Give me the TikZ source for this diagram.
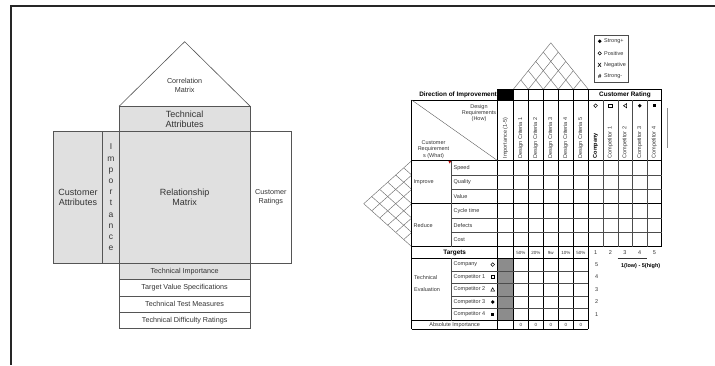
\documentclass[tikz,border=0pt]{standalone}
\usepackage{fontspec}
\setmainfont{Liberation Sans}
\usetikzlibrary{positioning}

\definecolor{housegray}{HTML}{E0E0E0}
\definecolor{linegray}{HTML}{555555}
\definecolor{textgray}{HTML}{333333}
\definecolor{evalgray}{HTML}{8C8C8C}
\definecolor{latticegray}{HTML}{6E6E6E}

\begin{document}
\begin{tikzpicture}[x=1pt, y=-1pt, inner sep=0pt,
      hbox/.style={draw=linegray, semithick, text=textgray, align=center},
      bigtxt/.style={font=\fontsize{9}{10.5}\selectfont},
      smalltxt/.style={font=\fontsize{7.2}{8.6}\selectfont},
      tabtxt/.style={text=textgray, font=\fontsize{5.5}{6.3}\selectfont},
      tabbold/.style={text=black, font=\bfseries\fontsize{6.4}{7}\selectfont},
      rothead/.style={tabtxt, rotate=90, anchor=west},
      thickrule/.style={black, line width=0.9pt},
      midrule/.style={black, line width=0.6pt},
      thinrule/.style={black!70, line width=0.35pt},
      lattice/.style={latticegray, line width=0.45pt},
      symb/.style={line width=0.5pt}]
      \useasboundingbox (0,0) rectangle (715,365);
      % frame
      \draw[black!85, line width=1.4pt] (715,6) -- (11,6) -- (11,365);

      % house of quality, left
      \node[hbox, bigtxt, fill=housegray, minimum width=130.7pt, minimum height=25pt]
        (techattr) at (184.65,119.2) {Technical\\Attributes};
      \coordinate (apex) at (184.65,41.7);
      \draw[linegray, semithick] (techattr.north west) -- (apex) -- (techattr.north east);
      \node[smalltxt, text=textgray, align=center] (corrmat) at (184.65,85.5) {Correlation\\Matrix};
      \node[hbox, bigtxt, fill=housegray, minimum width=49.4pt, minimum height=131.6pt]
        (custattr) at (78,197.5) {Customer\\Attributes};
      \node[hbox, fill=housegray, minimum width=16.6pt, minimum height=131.6pt,
        font=\fontsize{8.5}{11.2}\selectfont] (importance) at (111,197.5)
        {I\\m\\p\\o\\r\\t\\a\\n\\c\\e};
      \node[hbox, bigtxt, fill=housegray, minimum width=130.7pt, minimum height=131.6pt]
        (relmatrix) at (184.65,197.5) {Relationship\\Matrix};
      \node[hbox, smalltxt, minimum width=41.7pt, minimum height=131.6pt]
        (custrat) at (270.85,197.5) {Customer\\Ratings};
      \node[hbox, smalltxt, fill=housegray, minimum width=130.7pt, minimum height=16.35pt]
        (techimp) at (184.65,271.5) {Technical Importance};
      \node[hbox, smalltxt, minimum width=130.7pt, minimum height=16.35pt]
        (targetval) at (184.65,287.8) {Target Value Specifications};
      \node[hbox, smalltxt, minimum width=130.7pt, minimum height=16.35pt]
        (testmeas) at (184.65,304.2) {Technical Test Measures};
      \node[hbox, smalltxt, minimum width=130.7pt, minimum height=16.35pt]
        (diffrat) at (184.65,320.5) {Technical Difficulty Ratings};

      % house of quality, right: roofs
      \foreach \i in {0,...,5} {
        \draw[lattice] (513.3+15*\i,89.3) -- ++({37.5-7.5*\i},{-1.24*(37.5-7.5*\i)});
        \draw[lattice] (513.3+15*\i,89.3) -- ++({-7.5*\i},{-1.24*7.5*\i});
      }
      \foreach \j in {0,...,6} {
        \draw[lattice] (411.7,160.7+14.33*\j) -- ++({-1.116*7.165*\j},{-7.165*\j});
        \draw[lattice] (411.7,160.7+14.33*\j) -- ++({-1.116*(43-7.165*\j)},{43-7.165*\j});
      }

      % legend
      \node[draw=black!70, line width=0.5pt, minimum width=34.3pt, minimum height=46.6pt]
        (legend) at (611.15,59) {};
      \fill (599.7,41.3) circle (1.9);
      \draw[symb] (599.7,53.3) circle (1.7);
      \node[tabtxt, text=black, font=\bfseries\fontsize{6}{6}\selectfont] (lgx) at (599.7,65) {X};
      \node[tabtxt, text=black, font=\bfseries\fontsize{6}{6}\selectfont] (lgh) at (599.7,76.5) {\#};
      \node[tabtxt, anchor=west] (lg1) at (604,41.3) {Strong+};
      \node[tabtxt, anchor=west] (lg2) at (604,53.3) {Positive};
      \node[tabtxt, anchor=west] (lg3) at (604,65) {Negative};
      \node[tabtxt, anchor=west] (lg4) at (604,76.5) {Strong-};

      % fills
      \fill[black] (497.7,89.3) rectangle (513.3,100);
      \fill[evalgray] (497.7,258.3) rectangle (513.3,320.7);
      \fill[red!75!black] (448.3,160.7) -- (451.3,160.7) -- (449.8,163.6) -- cycle;

      % grid
      \draw[thickrule] (497.7,89.3) -- (661.7,89.3);
      \foreach \y in {100,160.7,203.7,246.7}
        \draw[thickrule] (411.7,\y) -- (661.7,\y);
      \foreach \y in {258.3,320.7,329}
        \draw[thickrule] (411.7,\y) -- (588.3,\y);
      \draw[thickrule] (411.7,100) -- (411.7,329);
      \foreach \x in {497.7,513.3,588.3}
        \draw[thickrule] (\x,89.3) -- (\x,329);
      \draw[thickrule] (661.7,89.3) -- (661.7,246.7);
      \foreach \x in {528.3,543.3,558.3,573.3}
        \draw[midrule] (\x,89.3) -- (\x,329);
      \foreach \x in {603,617.7,632.3,647}
        \draw[thinrule] (\x,100) -- (\x,246.7);
      \foreach \y in {175,189.3,218,232.3}
        \draw[thinrule] (451.5,\y) -- (661.7,\y);
      \foreach \y in {270.8,283.3,295.7,308.2}
        \draw[thinrule] (451.5,\y) -- (588.3,\y);
      \draw[thinrule] (451.5,160.7) -- (451.5,246.7);
      \draw[thinrule] (451.5,258.3) -- (451.5,320.7);
      \draw[thinrule] (411.7,100) -- (497.7,160.7);
      \draw[black!45, line width=0.6pt] (667.3,108) -- (667.3,148);

      % headers
      \node[tabbold, anchor=east] (dirimp) at (497,94.7) {Direction of Improvement};
      \node[tabbold] (custrating) at (625,94.7) {Customer Rating};
      \node[tabtxt, align=center] (designreq) at (479,113) {Design\\Requirements\\(How)};
      \node[tabtxt, align=center] (custreq) at (433.5,149.5) {Customer\\Requirement\\s (What)};
      \foreach \x/\t [count=\i] in {505.5/Importance (1-5), 520.8/Design Criteria 1,
          535.8/Design Criteria 2, 550.8/Design Criteria 3, 565.8/Design Criteria 4,
          580.8/Design Criteria 5, 610.3/Competitor 1, 625/Competitor 2,
          639.7/Competitor 3, 654.3/Competitor 4}
        \node[rothead] (colhead\i) at (\x,158.5) {\t};
      \node[rothead, font=\bfseries\fontsize{5.5}{6.3}\selectfont, text=black] (colhead0) at (595.6,158.5) {Company};
      % rating symbols
      \draw[symb] (595.6,105.7) circle (1.8);
      \draw[symb] (608.6,104) rectangle (612,107.4);
      \draw[symb] (626.6,103.6) -- (623.5,105.7) -- (626.6,107.8) -- cycle;
      \fill (639.7,105.7) circle (1.9);
      \fill (652.6,104) rectangle (656,107.4);

      % rows
      \node[tabtxt, anchor=west] (improve) at (413.5,182.2) {Improve};
      \node[tabtxt, anchor=west] (reduce) at (413.5,225.2) {Reduce};
      \foreach \y/\t [count=\i] in {167.9/Speed, 182.2/Quality, 196.5/Value,
          210.9/Cycle time, 225.2/Defects, 239.5/Cost}
        \node[tabtxt, anchor=west] (req\i) at (453.5,\y) {\t};
      \node[tabbold] (targets) at (454.7,252.5) {Targets};
      \foreach \x/\t [count=\i] in {520.8/50\%, 535.8/20\%, 550.8/9w, 565.8/10\%, 580.8/50\%}
        \node[tabtxt, font=\fontsize{4.5}{5}\selectfont] (target\i) at (\x,252.5) {\t};
      \foreach \x [count=\i] in {595.6,610.3,625,639.7,654.3}
        \node[tabtxt] (scale\i) at (\x,252.5) {\i};
      \draw[black!80, line width=0.7pt] (617.7,258.3) -- (646.7,258.3);
      \node[tabbold, font=\bfseries\fontsize{5.5}{6}\selectfont] (lowhigh) at (640.7,266) {1(low) - 5(high)};
      \node[tabtxt, anchor=west] (techeval1) at (414,277.3) {Technical};
      \node[tabtxt, anchor=west] (techeval2) at (414,289.3) {Evaluation};
      \foreach \y/\t/\n [count=\i] in {264.6/Company/5, 277/Competitor 1/4, 289.5/Competitor 2/3,
          302/Competitor 3/2, 314.5/Competitor 4/1} {
        \node[tabtxt, anchor=west] (eval\i) at (453.5,\y) {\t};
        \node[tabtxt] (evalnum\i) at (596.7,\y) {\n};
      }
      % evaluation symbols
      \draw[symb] (492.7,264.6) circle (1.8);
      \draw[symb] (491,275.3) rectangle (494.4,278.7);
      \draw[symb] (490.8,291.2) -- (494.6,291.2) -- (492.7,287.7) -- cycle;
      \fill (492.7,302) circle (1.9);
      \fill (491,312.6) rectangle (494.2,316.4);
      \node[tabtxt] (absimp) at (454.7,324.9) {Absolute Importance};
      \foreach \x [count=\i] in {520.8,535.8,550.8,565.8,580.8}
        \node[tabtxt, font=\fontsize{4.5}{5}\selectfont] (abs\i) at (\x,324.9) {0};
\end{tikzpicture}
\end{document}
